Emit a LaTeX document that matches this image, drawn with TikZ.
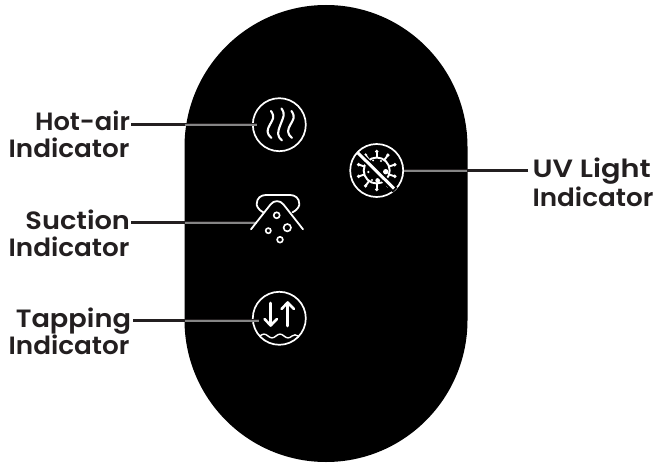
\documentclass[tikz,border=0pt]{standalone}
\usepackage{fontspec}
\usepackage{graphicx}
\setmainfont{Poppins SemiBold}
\definecolor{ink}{HTML}{231F20}
\definecolor{core}{HTML}{858585}
\newcommand{\wide}[2]{\scalebox{#1}[1]{#2}}
\tikzset{
  x=1pt,y=-1pt,
  lab/.style={font=\fontsize{25}{25}\selectfont,text=ink,inner sep=0pt,outer sep=0pt},
  icon/.style={draw=white,line width=1.7pt,circle,minimum size=53pt,inner sep=0pt},
  glyph/.style={draw=white,line width=1.8pt,line cap=round,line join=round},
  leader/.style={draw=ink,line width=3pt},
  leadercore/.style={draw=core,line width=1.7pt}
}
\begin{document}
\begin{tikzpicture}
\useasboundingbox (0,0) rectangle (658,465);
\fill[white] (0,0) rectangle (658,465);
% body
\fill[black] (184.5,147) arc[start angle=180,end angle=0,x radius=141.5,y radius=-142] -- (467.5,320) arc[start angle=0,end angle=-180,x radius=141.5,y radius=-142] -- cycle;
% icons
\node[icon] (hot) at (279.3,124.7) {};
\node[icon] (tap) at (279.3,318.3) {};
\node[icon] (uv) at (376.7,170.5) {};
% labels
\node[lab,anchor=base east] (hotA) at (130,130.7) {\wide{1.03}{Hot-air}};
\node[lab,anchor=base east] (hotB) at (129.5,158) {\wide{1.05}{Indicator}};
\node[lab,anchor=base east] (sucA) at (130,229) {\wide{1.09}{Suction}};
\node[lab,anchor=base east] (sucB) at (129.5,256) {\wide{1.05}{Indicator}};
\node[lab,anchor=base east] (tapA) at (131,327) {\wide{1.09}{Tapping}};
\node[lab,anchor=base east] (tapB) at (129.5,354) {\wide{1.05}{Indicator}};
\node[lab,anchor=base west] (uvA) at (532.5,178) {\wide{1.15}{UV Light}};
\node[lab,anchor=base west] (uvB) at (532.5,206) {\wide{1.05}{Indicator}};
% connector ends
\coordinate (hotS) at (131,125); \coordinate (hotE) at (256.5,125); \coordinate (hotM) at (184.5,125);
\coordinate (sucS) at (131,222.7); \coordinate (sucE) at (256.5,222.7); \coordinate (sucM) at (184.5,222.7);
\coordinate (tapS) at (133,320.7); \coordinate (tapE) at (258.5,320.7); \coordinate (tapM) at (185,320.7);
\coordinate (uvS) at (528,171); \coordinate (uvE) at (404,171); \coordinate (uvM) at (466.5,171);
\draw[leader] (hotS) -- (hotE);
\draw[leader] (sucS) -- (sucE);
\draw[leader] (tapS) -- (tapE);
\draw[leader] (uvS) -- (uvE);
\draw[leadercore] (hotM) -- (hotE);
\draw[leadercore] (sucM) -- (sucE);
\draw[leadercore] (tapM) -- (tapE);
\draw[leadercore] (uvM) -- (uvE);
% hot-air waves
\foreach \dx/\yt/\yb in {270/111/138, 280.5/108.5/140.5, 290.5/111/138}{
  \pgfmathsetmacro{\ym}{(\yt+\yb)/2}
  \draw[glyph,line width=2.1pt] (\dx+1,\yt) .. controls (\dx+5,\yt+6) and (\dx+3,\yt+8) .. (\dx,\ym)
     .. controls (\dx-3,\yb-8) and (\dx-4,\yb-5) .. (\dx+1.5,\yb);
}
% suction
\draw[glyph] (263.3,212.3) .. controls (257,209) and (256.7,205) .. (256.7,204) .. controls (256.7,198) and (261,195) .. (266,195)
  -- (290,195) .. controls (295,195) and (299.3,198) .. (299.3,204) .. controls (299.3,205) and (299,209) .. (292.5,212.3);
\draw[glyph] (251,229.3) -- (270.5,204.5) .. controls (274,200) and (280,200) .. (283.5,204.5) -- (303,229.3);
\draw[white,line width=1.6pt] (276.7,215.3) circle[radius=3] (287.3,227.7) circle[radius=3.7] (268.3,230.7) circle[radius=2.6] (280,239.7) circle[radius=2.9];
% tapping
\draw[glyph,line width=2.6pt] (270.7,303) -- (270.7,325);
\draw[glyph,line width=2.6pt] (264.5,319) -- (270.7,325.5) -- (276.9,319);
\draw[glyph,line width=2.6pt] (287.7,326) -- (287.7,303);
\draw[glyph,line width=2.6pt] (281.5,309) -- (287.7,302.5) -- (293.9,309);
\draw[glyph,line width=1.4pt] (260,336) .. controls (263,333.5) and (265,333.5) .. (268,336) .. controls (271,338.5) and (273,338.5) .. (276,336)
  .. controls (279,333.5) and (281,333.5) .. (284,336) .. controls (287,338.5) and (289,338.5) .. (292,336) .. controls (294,334.5) and (296,334.5) .. (298,336);
% virus
\draw[white,line width=1.9pt] (376.7,170.5) circle[radius=13];
\foreach \a in {90,126,...,414}{
  \draw[white,line width=1.9pt] (376.7,170.5) ++(\a:13) -- ++(\a:5.5);
  \fill[white] (376.7,170.5) ++(\a:19) circle[radius=1.9];
}
\fill[white] (385.7,171.7) circle[radius=2.7] (377.7,180.5) circle[radius=2.4] (368.3,172) circle[radius=1.3] (372,180) circle[radius=1.1] (381,161) circle[radius=1.2] (373,160.5) circle[radius=1];
% slash with halo
\draw[black,line width=6.5pt] (359,154) -- (395,190);
\draw[white,line width=3pt] (357.5,152.5) -- (394,188.5);
\end{tikzpicture}
\end{document}
